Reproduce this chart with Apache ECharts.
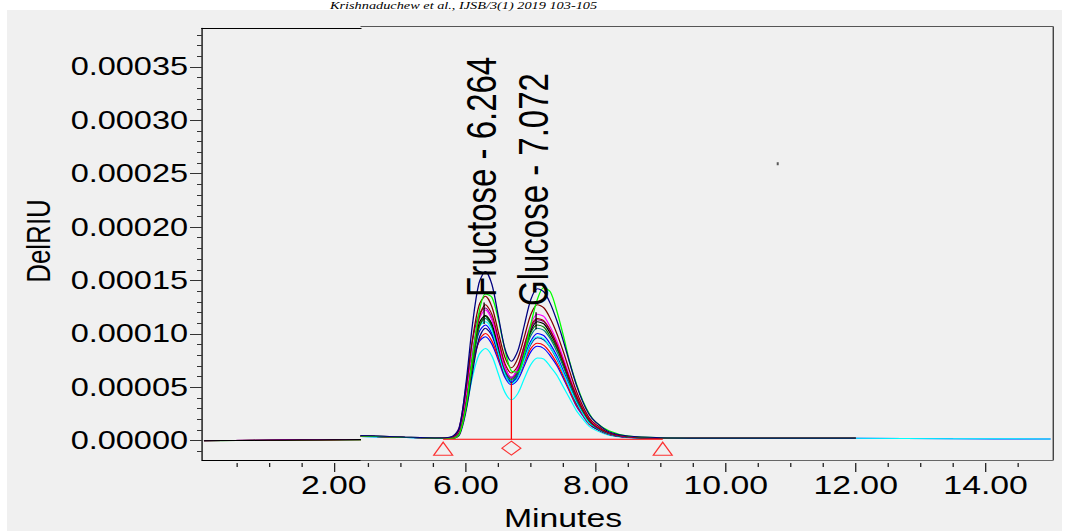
<!DOCTYPE html>
<html>
<head>
<meta charset="utf-8">
<title>Fructose / Glucose RI chromatogram</title>
<script src="https://cdn.jsdelivr.net/npm/echarts@6/dist/echarts.min.js"></script>
<style>
    html, body { margin: 0; padding: 0; background: #fff; overflow: hidden; }
    #panel { position: absolute; left: 7px; top: 10px; width: 1055px; height: 521px; background: #f0f0f0; }
    /* the scanned figure is stretched sideways, so the whole chart is too */
    #chart { position: absolute; left: 0; top: 0; width: 828px; height: 531px; transform: scaleX(1.29952); transform-origin: 0 0; }
</style>
</head>
<body>
<div id="panel"></div>
<div id="chart"></div>
<script>
const S = 1076 / 828;
const px = v => v / S;
const FONT = '"Liberation Sans", Arial, sans-serif';

// retention times (min) shared by the right-hand traces
const TIMES = [4.38, 5.0, 5.6, 5.8, 5.9, 6.0, 6.1, 6.2, 6.3, 6.4, 6.5, 6.6, 6.7, 6.8, 6.9, 7.0, 7.1,
    7.2, 7.3, 7.4, 7.5, 7.6, 7.7, 7.8, 7.9, 8.0, 8.2, 8.5, 9.0, 10, 11, 12, 13.5, 15];

// detector response, micro RIU
const trNavy = [3.5, 2.2, 1.2, 3, 11, 52, 107, 146, 157, 145, 115, 85, 73, 83, 107, 131, 141, 138, 127, 111, 92, 71, 51, 35, 23, 16, 7, 3, 1.5, 1, 1, 1];
const trLime = [3, 2, 1, 1, 5, 30, 76, 118, 136, 133, 112, 84, 64, 63, 80, 108, 131, 142, 138, 120, 97, 72, 52, 36, 24, 16, 8, 3, 1.5, 1, 1, 1];
const trMaroon = [3, 2, 1, 2, 10, 46, 93, 125, 134, 124, 100, 77, 67, 76, 96, 117, 126, 123, 113, 99, 82, 63, 45, 31, 20, 14, 6, 2.5, 1.3, 1, 1, 1];
const trDarkRed = [3, 2, 1, 1, 5, 31, 76, 113, 126, 117, 94, 71, 62, 69, 88, 106, 113, 111, 102, 89, 73, 56, 41, 28, 18, 12, 6, 2.3, 1.1, 1, 1, 1];
const trMagenta = [3, 2, 1, 2, 8.5, 40, 82, 112, 121, 112, 90, 67, 58, 67, 88, 108, 117, 115, 105, 92, 76, 58, 42, 29, 19, 13, 6, 2.3, 1.2, 1, 1, 1];
const trPurple = [3, 2, 1, 3, 12, 49, 92, 117, 123, 113, 90, 67, 57, 65, 85, 104, 112, 110, 101, 88, 73, 56, 40, 28, 18, 12, 5.6, 2.2, 1.1, 1, 1, 1];
const trBlack = [3.5, 2.2, 1.2, 2, 8, 38, 79, 108, 116, 108, 87, 67, 58, 66, 84, 102, 110, 108, 99, 87, 72, 55, 40, 28, 18, 12, 5.5, 2.2, 1.1, 1, 1, 1];
const trGreen = [3, 2, 1, 1, 5, 29, 69, 104, 115, 106, 86, 65, 56, 63, 82, 100, 107, 105, 96, 85, 70, 54, 39, 27, 17, 12, 5.4, 2.1, 1.1, 1, 1, 1];
const trTeal = [3, 2, 1, 2, 8, 37, 77, 105, 113, 105, 84, 64, 55, 62, 80, 97, 104, 102, 94, 82, 68, 52, 37, 26, 17, 11, 5.2, 2.1, 1, 1, 1, 1];
const trCyan = [2.5, 1.8, 1, 3, 11, 44, 83, 105, 110, 102, 81, 61, 52, 58, 74, 90, 96, 94, 86, 76, 62, 48, 35, 24, 15, 11, 4.8, 1.9, 1, 1, 1, 1, 0.6, 0.3];
const trBlue = [2.5, 1.8, 1, 2, 7.5, 35, 73, 100, 107, 99, 81, 62, 54, 61, 77, 92, 99, 97, 89, 78, 64, 50, 36, 25, 16, 11, 5, 2, 1, 1, 1, 1, 0.5, 0.2];
const trNavy2 = [3, 2, 1, 1, 4, 26, 62, 94, 104, 97, 79, 60, 53, 59, 74, 89, 95, 93, 86, 75, 62, 48, 34, 24, 15, 10, 4.8, 1.9, 1, 1, 1, 1];
const trRed = [3, 2, 1, 2, 7, 33, 67, 92, 99, 92, 76, 60, 53, 58, 72, 85, 90, 88, 81, 71, 59, 45, 32, 23, 14, 10, 4.5, 1.8, 1, 1, 1, 1];
const trBlue2 = [3, 2, 1, 2.4, 10, 38, 72, 91, 96, 89, 74, 58, 51, 56, 69, 82, 87, 85, 78, 69, 57, 44, 31, 22, 14, 10, 4.4, 1.7, 0.9, 1, 1, 1];
const trCyan2 = [2.5, 1.8, 1, 2, 6, 28, 58, 79, 85, 78, 61, 44, 37, 43, 57, 70, 76, 75, 68, 60, 49, 38, 27, 19, 12, 8.4, 3.8, 1.5, 0.8, 0.8, 0.8, 0.8];

const RIGHT_TRACES = [trCyan2, trBlue2, trRed, trNavy2, trBlue, trCyan, trTeal, trGreen, trBlack, trPurple, trMagenta, trDarkRed, trMaroon, trLime, trNavy];
const RIGHT_COLORS = ['#00ffff', '#0000ff', '#ff0000', '#000080', '#0000ff', '#00ffff', '#008080', '#008000', '#000000', '#800080', '#ff00ff', '#990000', '#800000', '#00ff00', '#000080'];

// left strip of the figure (0 - 2.4 min)
const LEFT_TIMES = [0, 0.5, 1.0, 1.5, 2.0, 2.42];
const lfGreen = [0, 0.1, 0.5, 0.5, 0.6, 0.7];
const lfMaroon = [0, 0.2, 0.5, 0.6, 0.7, 0.9];
const lfPurple = [0, 0.3, 0.9, 1.1, 1.1, 1.2];
const lfBlack = [0, 0.1, 0.4, 0.6, 0.8, 1.0];
const LEFT_TRACES = [lfGreen, lfMaroon, lfPurple, lfBlack];
const LEFT_COLORS = ['#008000', '#800000', '#800080', '#000000'];

// integration marks
const BASELINE = [[5.65, 0], [9.03, 0]];
const DROP_LINE = [[6.70, 0], [6.70, 53]];
const TRIANGLES = [[5.65, -8.8], [9.03, -8.8]];
const DIAMONDS = [[6.70, -8.3]];
const APEX_FRU = [[6.28, 108], [6.28, 128]];
const APEX_GLU = [[7.08, 103], [7.08, 119]];
const SPECK = [[10.8, 258]];

const PEAK_LABELS = ['Fructose - 6.264', 'Glucose - 7.072'];

// axis ticks
const Y_MAJOR = [0, 50, 100, 150, 200, 250, 300, 350];
const Y_MINOR = [-10, 10, 20, 30, 40, 60, 70, 80, 90, 110, 120, 130, 140, 160, 170, 180, 190,
    210, 220, 230, 240, 260, 270, 280, 290, 310, 320, 330, 340, 360, 370, 380];
const X_LEFT_MAJOR = [2];
const X_LEFT_MINOR = [0.5, 1, 1.5];
const X_RIGHT_MAJOR = [6, 8, 10, 12, 14];
const X_RIGHT_MINOR = [4.5, 5, 5.5, 6.5, 7, 7.5, 8.5, 9, 9.5, 10.5, 11, 11.5, 12.5, 13, 13.5, 14.5];

const LEFT_X = [-0.03, 2.42];
const RIGHT_X = [4.385, 15.03];

function frameAxis(grid, range, position, color) {
    return {
        type: 'value', gridIndex: grid, min: range[0], max: range[1], position: position,
        axisLine: { show: true, onZero: false, lineStyle: { color: color, width: 1 } },
        axisTick: { show: false }, axisLabel: { show: false }, splitLine: { show: false },
    };
}

function tickAxis(grid, range, ticks, len, labels) {
    return {
        type: 'value', gridIndex: grid, min: range[0], max: range[1], position: 'bottom', offset: 3,
        axisLine: { show: false, onZero: false },
        axisTick: { show: true, customValues: ticks, length: len, lineStyle: { color: '#222' } },
        axisLabel: labels ? {
            customValues: ticks, margin: 8.5, fontSize: 26, fontFamily: FONT, color: '#000',
            formatter: v => v.toFixed(2),
        } : { show: false },
        splitLine: { show: false },
    };
}

function trace(times, vals, color, xi, yi) {
    return {
        type: 'line', xAxisIndex: xi, yAxisIndex: yi, silent: true,
        data: vals.map((v, i) => [times[i], v]),
        showSymbol: false, symbol: 'none', smooth: 0.3,
        lineStyle: { color: color, width: 1 },
    };
}

function mark(data, color, xi, yi) {
    return {
        type: 'line', xAxisIndex: xi, yAxisIndex: yi, silent: true, data: data,
        showSymbol: false, symbol: 'none', z: 4,
        lineStyle: { color: color, width: 1 },
    };
}

const chart = echarts.init(document.getElementById('chart'), null, { renderer: 'svg', width: 828, height: 531 });

const series = [];
LEFT_TRACES.forEach((vals, i) => series.push(trace(LEFT_TIMES, vals, LEFT_COLORS[i], 0, 0)));
RIGHT_TRACES.forEach((vals, i) => series.push(trace(TIMES, vals, RIGHT_COLORS[i], 4, 2)));
series.push(mark(BASELINE, '#ff0000', 4, 2));
series.push(mark(DROP_LINE, '#ff0000', 4, 2));
series.push(mark(APEX_FRU, '#000000', 4, 2));
series.push(mark(APEX_GLU, '#000000', 4, 2));
series.push({
    type: 'scatter', xAxisIndex: 4, yAxisIndex: 2, silent: true, z: 5, data: TRIANGLES,
    symbol: 'triangle', symbolSize: [px(19), 13],
    itemStyle: { color: 'rgba(0,0,0,0)', borderColor: '#ff0000', borderWidth: 1 },
});
series.push({
    type: 'scatter', xAxisIndex: 4, yAxisIndex: 2, silent: true, z: 5, data: DIAMONDS,
    symbol: 'diamond', symbolSize: [px(19), 14],
    itemStyle: { color: 'rgba(0,0,0,0)', borderColor: '#ff0000', borderWidth: 1 },
});
series.push({
    type: 'scatter', xAxisIndex: 4, yAxisIndex: 2, silent: true, data: SPECK,
    symbol: 'rect', symbolSize: [px(2), 3], itemStyle: { color: '#333' },
});

chart.setOption({
    animation: false,
    backgroundColor: 'transparent',
    grid: [
        { left: px(202), top: 28.3, width: px(361 - 202), height: 460 - 28.3 },
        { left: px(361), top: 26.7, width: px(1052.5 - 361), height: 460 - 26.7 },
    ],
    xAxis: [
        frameAxis(0, LEFT_X, 'bottom', '#000'),
        tickAxis(0, LEFT_X, X_LEFT_MAJOR, 9, true),
        tickAxis(0, LEFT_X, X_LEFT_MINOR, 4, false),
        frameAxis(0, LEFT_X, 'top', '#000'),
        frameAxis(1, RIGHT_X, 'bottom', '#666'),
        tickAxis(1, RIGHT_X, X_RIGHT_MAJOR, 9, true),
        tickAxis(1, RIGHT_X, X_RIGHT_MINOR, 4, false),
        frameAxis(1, RIGHT_X, 'top', '#555'),
    ],
    yAxis: [
        {
            type: 'value', gridIndex: 0, min: -18.1, max: 386.1, position: 'left',
            axisLine: { show: true, onZero: false, lineStyle: { color: '#000' } },
            axisTick: { show: true, customValues: Y_MAJOR, length: px(12), lineStyle: { color: '#333' } },
            axisLabel: {
                customValues: Y_MAJOR, margin: px(14), fontSize: 25, fontFamily: FONT, color: '#000',
                formatter: v => (v / 1e6).toFixed(5),
            },
            splitLine: { show: false },
        },
        {
            type: 'value', gridIndex: 0, min: -18.1, max: 386.1, position: 'left',
            axisLine: { show: false, onZero: false },
            axisTick: { show: true, customValues: Y_MINOR, length: px(5), lineStyle: { color: '#333' } },
            axisLabel: { show: false }, splitLine: { show: false },
        },
        {
            type: 'value', gridIndex: 1, min: -19.4, max: 386.3, position: 'right',
            axisLine: { show: true, onZero: false, lineStyle: { color: '#333' } },
            axisTick: { show: false }, axisLabel: { show: false }, splitLine: { show: false },
        },
    ],
    graphic: {
        elements: [
            {
                type: 'text', x: px(330), y: 0, z: 10, silent: true,
                style: { text: 'Krishnaduchew et al., IJSB/3(1) 2019 103-105', font: 'italic 11px "Liberation Serif", serif', fill: '#000', align: 'left', verticalAlign: 'top' },
            },
            {
                type: 'text', x: px(38), y: 241, rotation: Math.PI / 2, z: 10, silent: true,
                style: { text: 'DelRIU', font: '26px ' + FONT, fill: '#000', align: 'center', verticalAlign: 'middle' },
            },
            {
                type: 'text', x: px(563), y: 518, z: 10, silent: true,
                style: { text: 'Minutes', font: '26px ' + FONT, fill: '#000', align: 'center', verticalAlign: 'middle' },
            },
            {
                type: 'text', x: px(480.5), y: 297, rotation: Math.PI / 2, z: 10, silent: true,
                style: { text: PEAK_LABELS[0], font: '33px ' + FONT, fill: '#000', align: 'left', verticalAlign: 'middle' },
            },
            {
                type: 'text', x: px(532.5), y: 306, rotation: Math.PI / 2, z: 10, silent: true,
                style: { text: PEAK_LABELS[1], font: '33px ' + FONT, fill: '#000', align: 'left', verticalAlign: 'middle' },
            },
        ],
    },
    series: series,
});
</script>
</body>
</html>
